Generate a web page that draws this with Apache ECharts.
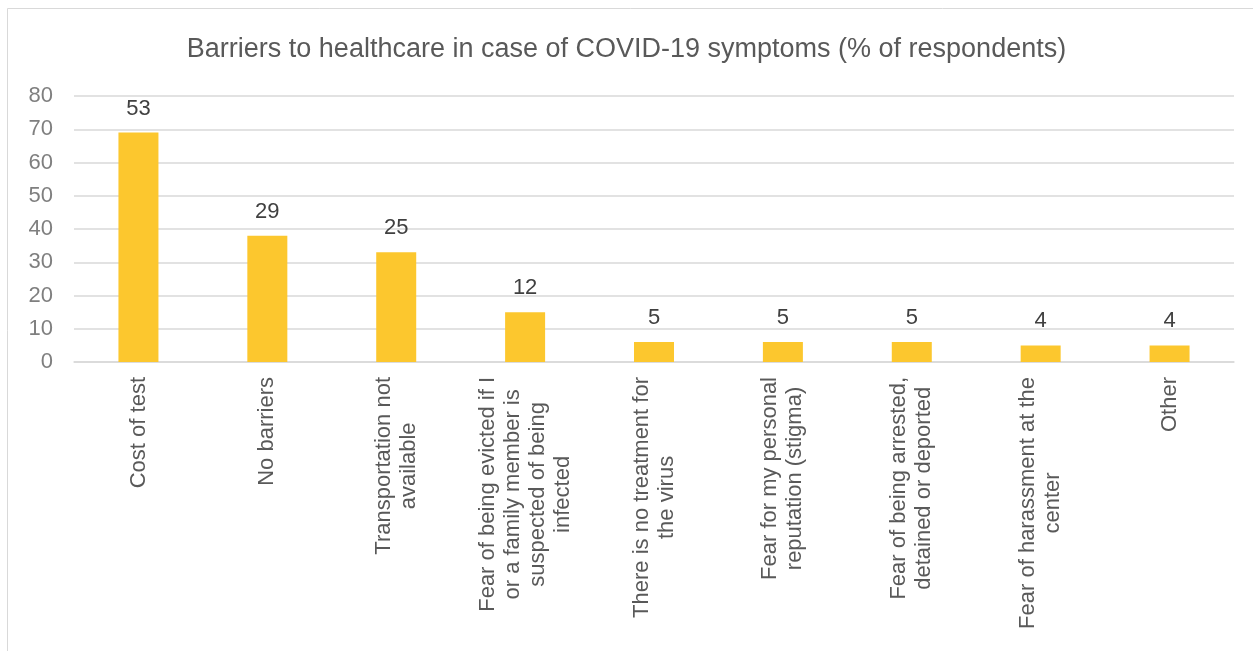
<!DOCTYPE html>
<html>
<head>
<meta charset="utf-8">
<script src="https://cdn.jsdelivr.net/npm/echarts@6/dist/echarts.min.js"></script>
<style>
html,body{margin:0;padding:0;background:#fff;}
#chart{width:1253px;height:651px;}
</style>
</head>
<body>
<div id="chart"></div>
<script>
const categories = [
  "Cost of test",
  "No barriers",
  "Transportation not\navailable",
  "Fear of being evicted if I\nor a family member is\nsuspected of being\ninfected",
  "There is no treatment for\nthe virus",
  "Fear for my personal\nreputation (stigma)",
  "Fear of being arrested,\ndetained or deported",
  "Fear of harassment at the\ncenter",
  "Other"
];
// bar heights as drawn against the axis
const barValues = [69, 38, 33, 15, 6, 6, 6, 5, 5];
// numbers printed above the bars
const labelValues = [53, 29, 25, 12, 5, 5, 5, 4, 4];
const yTicks = [0, 10, 20, 30, 40, 50, 60, 70, 80];

const chart = echarts.init(document.getElementById('chart'));
const font = "'Liberation Sans', Arial, sans-serif";
chart.setOption({
  animation: false,
  backgroundColor: '#fff',
  graphic: [{
    type: 'rect',
    shape: {x: 7.5, y: 8.5, width: 1260, height: 700},
    style: {fill: 'none', stroke: '#d9d9d9', lineWidth: 1},
    silent: true
  }],
  title: {
    text: 'Barriers to healthcare in case of COVID-19 symptoms (% of respondents)',
    left: 'center',
    top: 31,
    textStyle: {fontFamily: font, fontSize: 27, fontWeight: 'normal', color: '#595959'}
  },
  grid: {left: 74, right: 19, top: 96, bottom: 289, containLabel: false},
  xAxis: {
    type: 'category',
    data: categories,
    axisLine: {lineStyle: {color: '#d9d9d9', width: 1.5}},
    axisTick: {show: false},
    axisLabel: {
      rotate: 90,
      interval: 0,
      margin: 15,
      formatter: function (v) {
        return v.split('\n').map(function (l) { return '{c|' + l + '}'; }).join('\n');
      },
      rich: {
        c: {fontFamily: font, fontSize: 22, color: '#595959', align: 'center', lineHeight: 25}
      }
    }
  },
  yAxis: {
    type: 'value',
    min: yTicks[0],
    max: yTicks[yTicks.length - 1],
    interval: 10,
    axisLine: {show: false},
    axisTick: {show: false},
    splitLine: {lineStyle: {color: '#d9d9d9', width: 1.5}},
    axisLabel: {fontFamily: font, fontSize: 22, color: '#7f7f7f', margin: 21}
  },
  series: [{
    type: 'bar',
    data: barValues,
    barWidth: 40,
    itemStyle: {color: '#FCC72E'},
    label: {
      show: true,
      position: 'top',
      distance: 13,
      fontFamily: font,
      fontSize: 22,
      color: '#404040',
      formatter: function (p) { return String(labelValues[p.dataIndex]); }
    }
  }]
});
</script>
</body>
</html>
